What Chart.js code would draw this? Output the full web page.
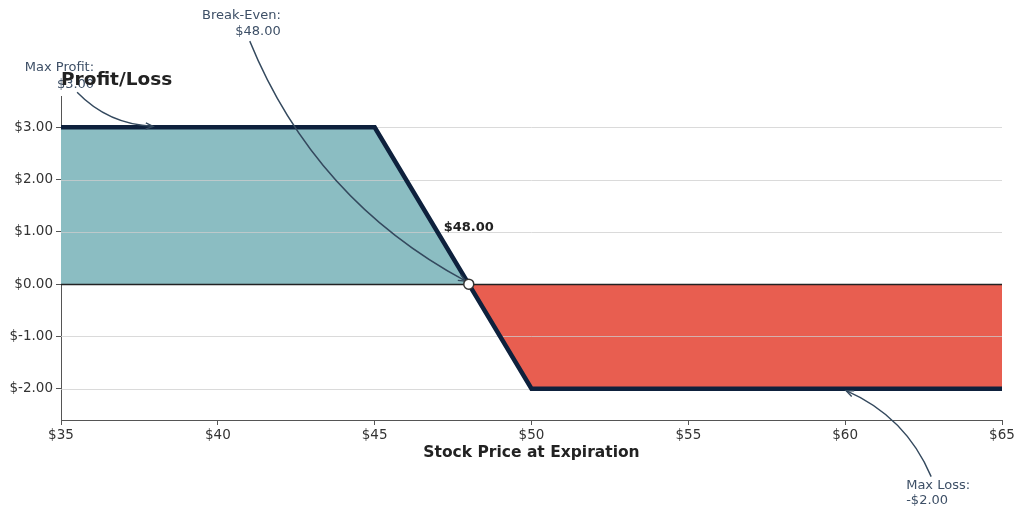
<!DOCTYPE html>
<html>
<head>
<meta charset="utf-8">
<script src="https://cdn.jsdelivr.net/npm/chart.js@4/dist/chart.umd.min.js"></script>
<style>
  html, body { margin: 0; padding: 0; background: #fff; }
  #wrap { width: 1024px; height: 516px; position: relative; }
</style>
</head>
<body>
<div id="wrap"><canvas id="c" width="1024" height="516"></canvas></div>
<script>
// ---- data ----
const prices = [35, 45, 48, 50, 65];
const payoff = [3, 3, 0, -2, -2];
const profitX = [35, 45, 48];
const profitY = [3, 3, 0];
const lossX = [48, 50, 65];
const lossY = [0, -2, -2];
const breakEven = 48;
const maxProfit = 3;
const maxLoss = -2;
const maxProfitAt = 38;
const maxLossAt = 60;
const xTicks = [35, 40, 45, 50, 55, 60, 65];
const yTicks = [-2, -1, 0, 1, 2, 3];
const xRange = [35, 65];
const yRange = [-2.6, 3.6];

const toPts = (xs, ys) => xs.map((x, i) => ({ x: x, y: ys[i] }));
const FONT = "'DejaVu Sans', sans-serif";

function arrow(ctx, sx, sy, ex, ey, k) {
  const dx = ex - sx, dy = ey - sy;
  const cx = (sx + ex) / 2 - k * dy;
  const cy = (sy + ey) / 2 + k * dx;
  ctx.save();
  ctx.strokeStyle = '#34495e';
  ctx.lineWidth = 1.4;
  ctx.beginPath();
  ctx.moveTo(sx, sy);
  ctx.quadraticCurveTo(cx, cy, ex, ey);
  ctx.stroke();
  const ang = Math.atan2(ey - cy, ex - cx);
  const L = 8, A = 0.4;
  ctx.beginPath();
  ctx.moveTo(ex - L * Math.cos(ang - A), ey - L * Math.sin(ang - A));
  ctx.lineTo(ex, ey);
  ctx.lineTo(ex - L * Math.cos(ang + A), ey - L * Math.sin(ang + A));
  ctx.stroke();
  ctx.restore();
}

const overlay = {
  id: 'overlay',
  beforeDatasetDraw(chart, args) {
    if (args.index !== 2) return;
    const ctx = chart.ctx, a = chart.chartArea, y = chart.scales.y;
    ctx.save();
    yTicks.forEach(v => {
      const py = Math.round(y.getPixelForValue(v)) + 0.5;
      ctx.beginPath();
      ctx.moveTo(a.left, py);
      ctx.lineTo(a.right, py);
      if (v === 0) { ctx.strokeStyle = '#222'; ctx.lineWidth = 1.3; }
      else { ctx.strokeStyle = 'rgba(205,205,205,0.75)'; ctx.lineWidth = 1; }
      ctx.stroke();
    });
    ctx.restore();
  },
  afterDraw(chart) {
    const ctx = chart.ctx, x = chart.scales.x, y = chart.scales.y, a = chart.chartArea;
    const bx = x.getPixelForValue(breakEven), by = y.getPixelForValue(0);
    ctx.save();
    ctx.font = '13px ' + FONT;
    ctx.fillStyle = '#3d4f66';
    ctx.textBaseline = 'middle';
    // Max profit
    const px = x.getPixelForValue(maxProfitAt), py = y.getPixelForValue(maxProfit);
    ctx.textAlign = 'right';
    ctx.fillText('Max Profit:', px - 61, py - 60);
    ctx.fillText('$' + maxProfit.toFixed(2), px - 61, py - 43);
    arrow(ctx, px - 78, py - 35, px - 2, py - 1, 0.2);
    // Break-even
    ctx.fillText('Break-Even:', bx - 188, by - 269);
    ctx.fillText('$' + breakEven.toFixed(2), bx - 188, by - 253);
    arrow(ctx, bx - 219, by - 243, bx - 3, by - 3, 0.18);
    // Max loss
    const lx = x.getPixelForValue(maxLossAt), ly = y.getPixelForValue(maxLoss);
    ctx.textAlign = 'left';
    ctx.fillText('Max Loss:', lx + 61, ly + 97);
    ctx.fillText('-$' + Math.abs(maxLoss).toFixed(2), lx + 61, ly + 112);
    arrow(ctx, lx + 86, ly + 88, lx + 1, ly + 2, 0.2);
    // $48.00 label
    ctx.font = 'bold 13px ' + FONT;
    ctx.fillStyle = '#222';
    ctx.textAlign = 'center';
    ctx.textBaseline = 'alphabetic';
    ctx.fillText('$' + breakEven.toFixed(2), bx, y.getPixelForValue(1) - 1);
    // marker
    ctx.beginPath();
    ctx.arc(bx, by, 5, 0, Math.PI * 2);
    ctx.fillStyle = '#fff';
    ctx.fill();
    ctx.lineWidth = 1.5;
    ctx.strokeStyle = '#333';
    ctx.stroke();
    // title
    ctx.font = 'bold 18.5px ' + FONT;
    ctx.fillStyle = '#222';
    ctx.textAlign = 'left';
    ctx.textBaseline = 'middle';
    ctx.fillText('Profit/Loss', a.left, 80);
    ctx.restore();
  }
};

new Chart(document.getElementById('c'), {
  type: 'line',
  data: {
    datasets: [
      { data: toPts(profitX, profitY), fill: 'origin', backgroundColor: '#8bbdc2', borderWidth: 0, pointRadius: 0, order: 3 },
      { data: toPts(lossX, lossY), fill: 'origin', backgroundColor: '#e85e50', borderWidth: 0, pointRadius: 0, order: 3 },
      { data: toPts(prices, payoff), fill: false, borderColor: '#0e213d', borderWidth: 4.5, pointRadius: 0, tension: 0, order: 2, borderJoinStyle: 'miter' }
    ]
  },
  plugins: [overlay],
  options: {
    responsive: false,
    animation: false,
    events: [],
    layout: { padding: { top: 96, right: 22, left: 0, bottom: 0 } },
    plugins: { legend: { display: false }, tooltip: { enabled: false }, title: { display: false } },
    scales: {
      x: {
        type: 'linear',
        min: xRange[0], max: xRange[1],
        afterBuildTicks: s => { s.ticks = xTicks.map(v => ({ value: v })); },
        afterFit: s => { s.height = 96; },
        grid: { drawOnChartArea: false, drawTicks: true, tickLength: 5, color: '#555', tickWidth: 1 },
        border: { color: '#555', width: 1 },
        ticks: { color: '#333', font: { family: FONT, size: 13.5 }, padding: 2, maxRotation: 0, callback: v => '$' + v },
        title: { display: true, text: 'Stock Price at Expiration', color: '#222', font: { family: FONT, size: 15.5, weight: 'bold' }, padding: { top: 0, bottom: 54 } }
      },
      y: {
        type: 'linear',
        min: yRange[0], max: yRange[1],
        afterBuildTicks: s => { s.ticks = yTicks.map(v => ({ value: v })); },
        afterFit: s => { s.width = 61; },
        grid: { drawOnChartArea: false, drawTicks: true, tickLength: 5, color: '#555' },
        border: { color: '#555', width: 1 },
        ticks: { color: '#333', font: { family: FONT, size: 13.5 }, padding: 3, callback: v => '$' + v.toFixed(2) }
      }
    }
  }
});
</script>
</body>
</html>
